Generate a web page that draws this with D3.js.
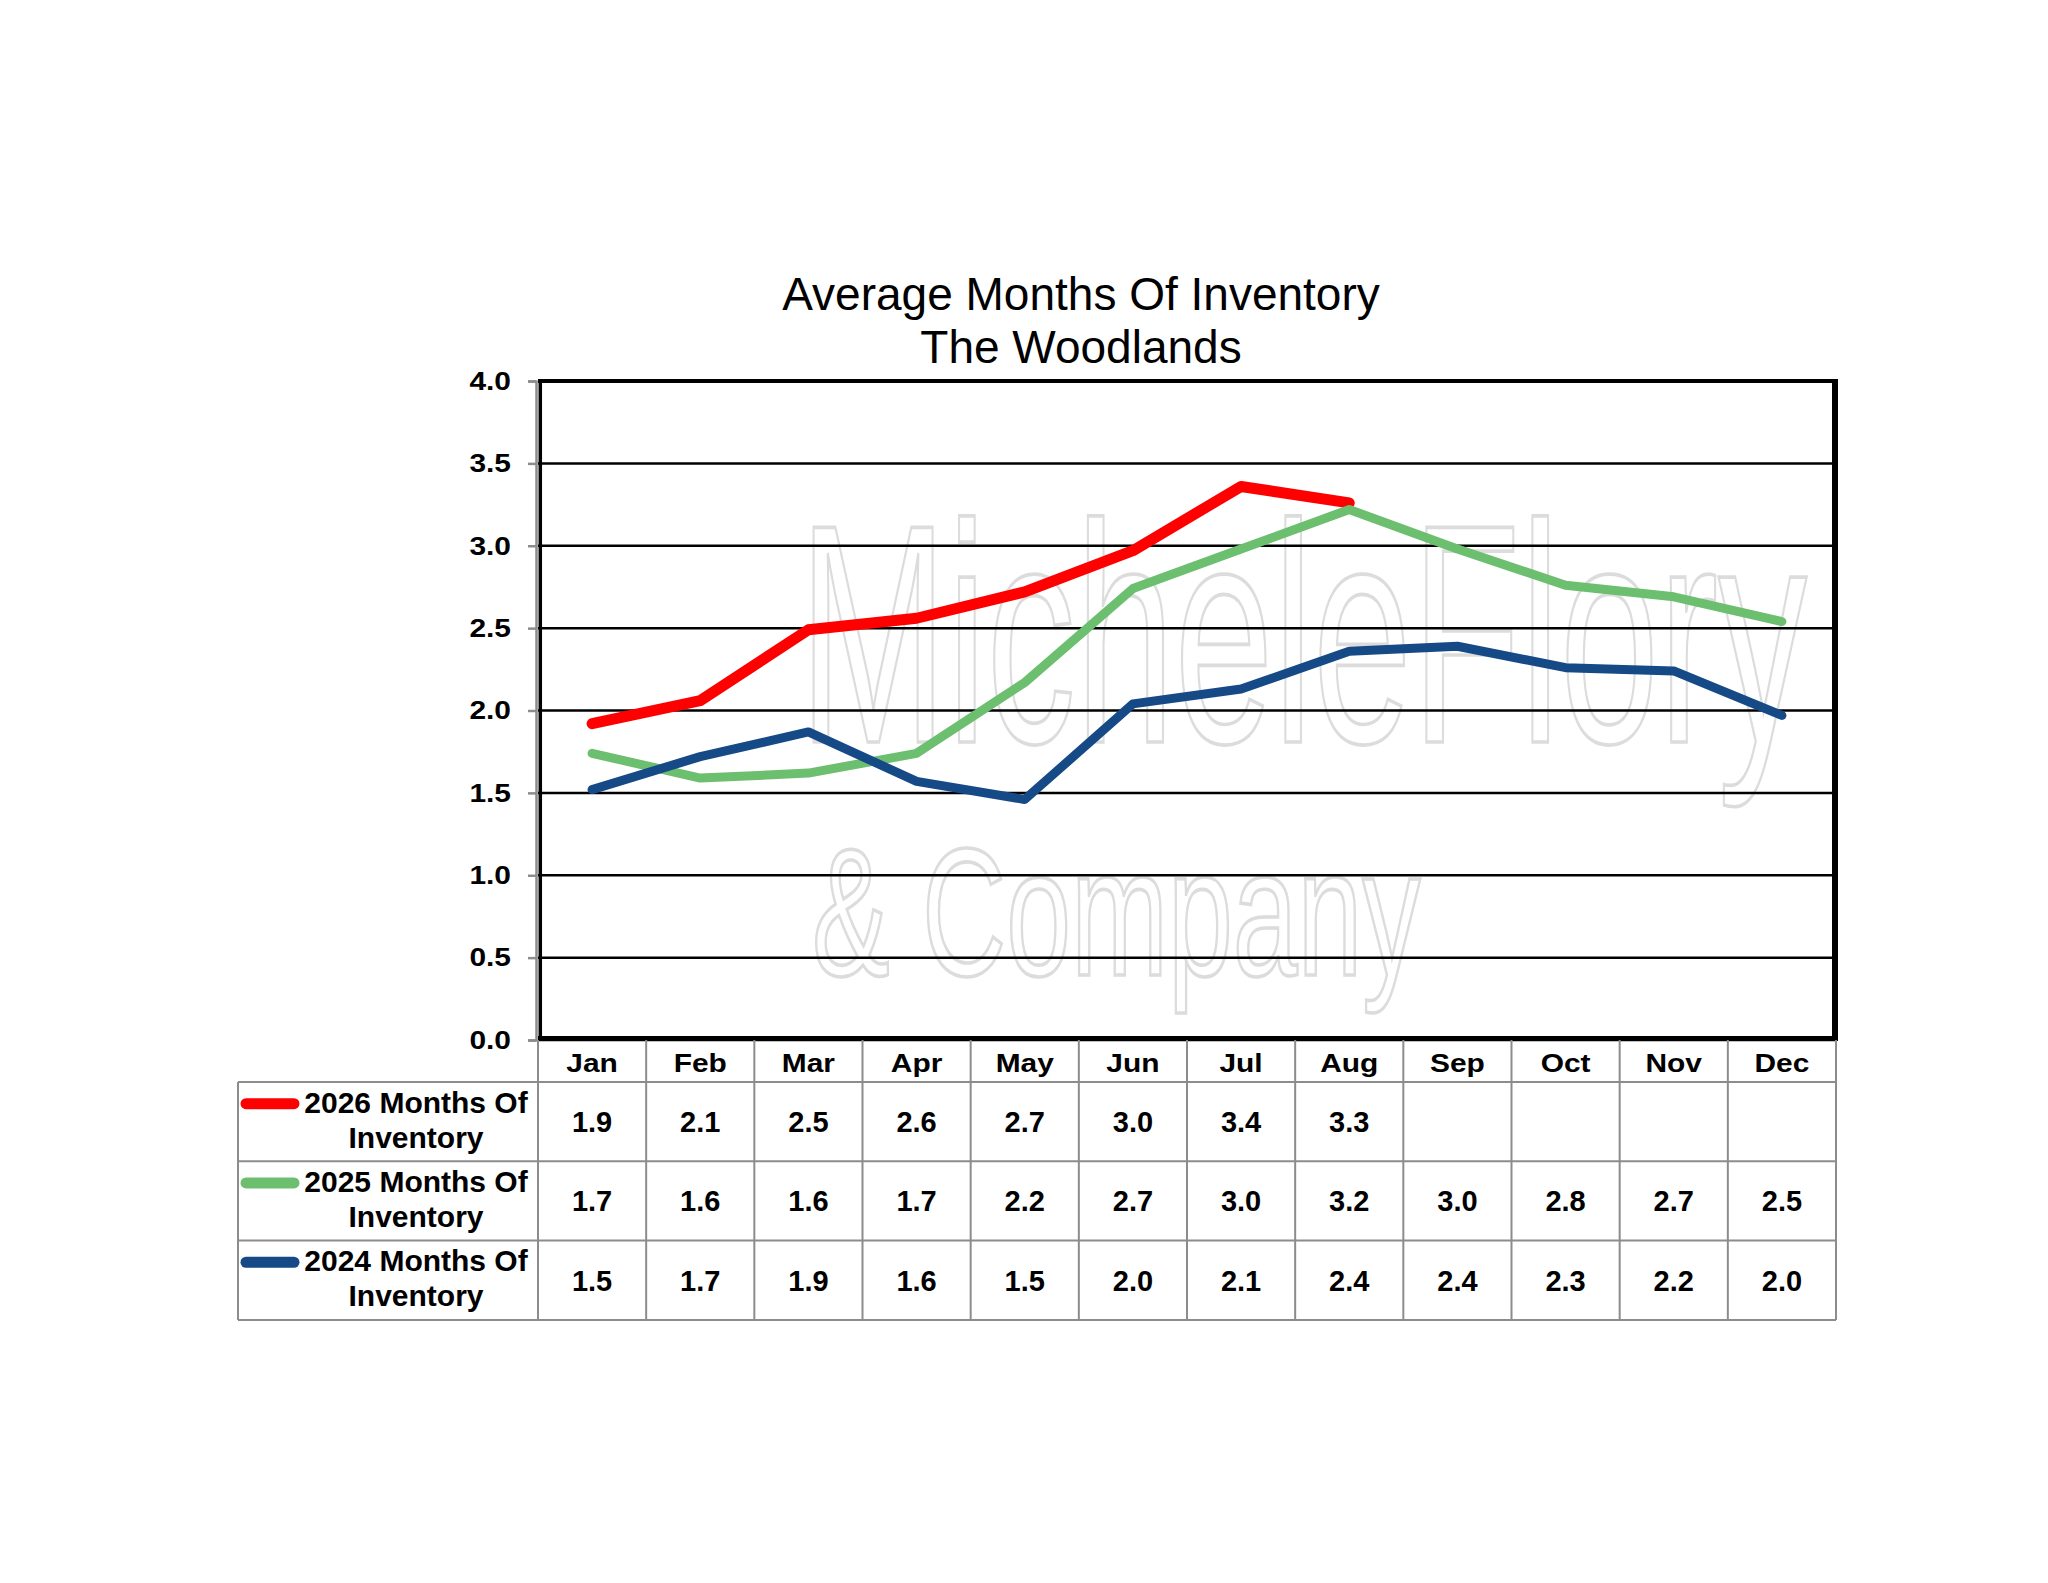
<!DOCTYPE html>
<html>
<head>
<meta charset="utf-8">
<script src="https://cdn.jsdelivr.net/npm/d3@7"></script>
<style>
  body { margin: 0; background: #fff; }
  text { font-family: "Liberation Sans", Arial, sans-serif; }
</style>
</head>
<body>
<svg width="2048" height="1583"></svg>
<script>
// data
var months = ["Jan", "Feb", "Mar", "Apr", "May", "Jun", "Jul", "Aug", "Sep", "Oct", "Nov", "Dec"];
var seriesNames = ["2026 Months Of Inventory", "2025 Months Of Inventory", "2024 Months Of Inventory"];
var inv2026 = [1.92, 2.06, 2.49, 2.56, 2.72, 2.97, 3.36, 3.26, null, null, null, null];
var inv2025 = [1.74, 1.59, 1.62, 1.74, 2.17, 2.74, 2.98, 3.22, 2.98, 2.76, 2.69, 2.54];
var inv2024 = [1.52, 1.72, 1.87, 1.57, 1.46, 2.04, 2.13, 2.36, 2.39, 2.26, 2.24, 1.97];
var yTicks = [0, 0.5, 1, 1.5, 2, 2.5, 3, 3.5, 4];

var seriesValues = [inv2026, inv2025, inv2024];
var colors = ["#ff0000", "#6cbf6e", "#154a87"];
var widths = [11, 9, 9];

var svg = d3.select("svg");
var plot = {left: 538, right: 1836, top: 381, bottom: 1040};
var table = {left: 238, top: 1082, rowH: 79.3};

var x = d3.scaleBand().domain(months).range([plot.left, plot.right]);
var y = d3.scaleLinear().domain([0, 4]).range([plot.bottom, plot.top]);
var fmt = d3.format(".1f");

// title
svg.append("text").attr("x", 1081).attr("y", 310).attr("text-anchor", "middle")
    .style("font-size", "46px").text("Average Months Of Inventory");
svg.append("text").attr("x", 1081).attr("y", 363).attr("text-anchor", "middle")
    .style("font-size", "46px").text("The Woodlands");

// watermark (outlined logo text)
var wm = svg.append("g").attr("fill", "none").attr("stroke", "#dcdcdc").attr("stroke-width", 3);
wm.append("text").attr("transform", "translate(799,742) scale(0.57,1)")
    .attr("vector-effect", "non-scaling-stroke")
    .style("font-size", "312px").text("MicheleFlory");
wm.append("text").attr("transform", "translate(812,975) scale(0.64,1)")
    .attr("vector-effect", "non-scaling-stroke")
    .style("font-size", "182px").text("& Company");

// gridlines
svg.append("g").selectAll("line")
    .data(yTicks)
    .enter().append("line")
    .attr("x1", plot.left).attr("x2", plot.right)
    .attr("y1", d => y(d)).attr("y2", d => y(d))
    .attr("stroke", "#000").attr("stroke-width", 2.5);

// y axis
var yAxis = d3.axisLeft(y).tickValues(yTicks).tickSize(8).tickFormat(fmt);
var gy = svg.append("g").attr("transform", "translate(536,0)").call(yAxis)
    .attr("font-size", null).attr("font-family", null);
gy.select(".domain").attr("stroke", "#8c8c8c").attr("stroke-width", 2.5);
gy.selectAll(".tick line").attr("stroke", "#8c8c8c").attr("stroke-width", 2.5);
gy.selectAll(".tick text")
    .attr("x", null)
    .attr("transform", "translate(-25,0) scale(1.15,1)")
    .attr("fill", "#000")
    .style("font-size", "26px").style("font-weight", "bold");

// plot area border
var border = svg.append("g").attr("stroke", "#000");
border.append("line").attr("x1", plot.left).attr("x2", plot.right + 2)
    .attr("y1", plot.top).attr("y2", plot.top).attr("stroke-width", 4);
border.append("line").attr("x1", plot.right - 1).attr("x2", plot.right - 1)
    .attr("y1", plot.top - 2).attr("y2", plot.bottom + 1).attr("stroke-width", 6);
border.append("line").attr("x1", plot.left).attr("x2", plot.right + 2)
    .attr("y1", plot.bottom - 1.5).attr("y2", plot.bottom - 1.5).attr("stroke-width", 5);
border.append("line").attr("x1", plot.left + 2.3).attr("x2", plot.left + 2.3)
    .attr("y1", plot.top).attr("y2", plot.bottom).attr("stroke-width", 3.5);

// series lines
var line = d3.line()
    .defined(d => d != null)
    .x((d, i) => x(months[i]) + x.bandwidth() / 2)
    .y(d => y(d));

svg.append("g").selectAll("path")
    .data(seriesValues)
    .enter().append("path")
    .attr("d", d => line(d))
    .attr("fill", "none")
    .attr("stroke", (d, i) => colors[i])
    .attr("stroke-width", (d, i) => widths[i])
    .attr("stroke-linejoin", "round")
    .attr("stroke-linecap", "round");

// month labels
var xAxis = d3.axisBottom(x).tickSize(0);
var gx = svg.append("g").attr("transform", "translate(0," + plot.bottom + ")").call(xAxis)
    .attr("font-size", null).attr("font-family", null);
gx.select(".domain").remove();
gx.selectAll(".tick text")
    .attr("y", 31.7).attr("dy", null)
    .attr("transform", "scale(1.15,1)")
    .attr("fill", "#000")
    .style("font-size", "26px").style("font-weight", "bold");

// data table grid
var tableBottom = table.top + seriesNames.length * table.rowH;
var grid = svg.append("g").attr("stroke", "#8c8c8c").attr("stroke-width", 2);
var colEdges = months.map(m => x(m)).concat([plot.right]);
grid.selectAll(".vline")
    .data(colEdges)
    .enter().append("line")
    .attr("x1", d => d).attr("x2", d => d)
    .attr("y1", plot.bottom).attr("y2", tableBottom);
grid.selectAll(".hline")
    .data(d3.range(seriesNames.length + 1))
    .enter().append("line")
    .attr("x1", table.left).attr("x2", plot.right)
    .attr("y1", i => table.top + i * table.rowH)
    .attr("y2", i => table.top + i * table.rowH);
grid.append("line").attr("x1", table.left).attr("x2", table.left)
    .attr("y1", table.top).attr("y2", tableBottom);

// rows: legend key + values
var rows = svg.append("g").selectAll("g")
    .data(seriesNames)
    .enter().append("g")
    .attr("transform", (d, i) => "translate(0," + (table.top + (i + 0.5) * table.rowH) + ")");

rows.append("line")
    .attr("x1", 246).attr("x2", 294)
    .attr("y1", -18).attr("y2", -18)
    .attr("stroke", (d, i) => colors[i])
    .attr("stroke-width", 11)
    .attr("stroke-linecap", "round");

rows.append("text")
    .attr("x", 416).attr("y", -9).attr("text-anchor", "middle")
    .style("font-size", "30px").style("font-weight", "bold")
    .text(d => d.split(" ").slice(0, 3).join(" "));
rows.append("text")
    .attr("x", 416).attr("y", 26).attr("text-anchor", "middle")
    .style("font-size", "30px").style("font-weight", "bold")
    .text(d => d.split(" ").slice(3).join(" "));

rows.each(function(name, si) {
    d3.select(this).selectAll(".val")
        .data(seriesValues[si])
        .enter().append("text")
        .attr("class", "val")
        .attr("x", (d, i) => x(months[i]) + x.bandwidth() / 2)
        .attr("y", 10.5)
        .attr("text-anchor", "middle")
        .style("font-size", "29px").style("font-weight", "bold")
        .text(d => d == null ? "" : fmt(d));
});
</script>
</body>
</html>
